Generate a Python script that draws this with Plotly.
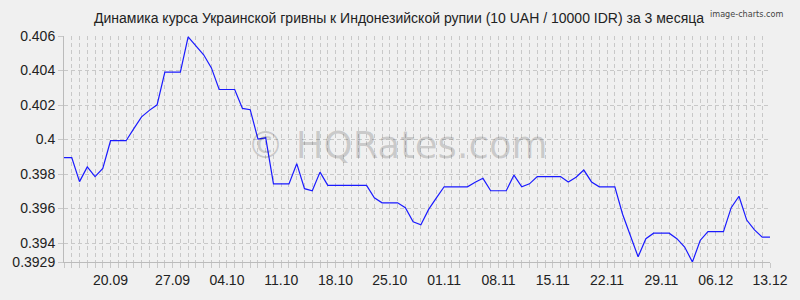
import plotly.graph_objects as go

# Daily rate, 92 points (index 0 .. 91)
values = [
    0.39895, 0.39895, 0.39756, 0.39841, 0.39785, 0.39832, 0.39993, 0.39993, 0.39993, 0.40063,
    0.40131, 0.40169, 0.40201, 0.40391, 0.40391, 0.40391, 0.40595, 0.40542, 0.40491, 0.40415,
    0.40290, 0.40290, 0.40290, 0.40180, 0.40173, 0.40002, 0.40010, 0.39743, 0.39743, 0.39743,
    0.39860, 0.39715, 0.39703, 0.39811, 0.39734, 0.39734, 0.39734, 0.39734, 0.39734, 0.39734,
    0.39662, 0.39633, 0.39633, 0.39633, 0.39605, 0.39523, 0.39506, 0.39595, 0.39662, 0.39726,
    0.39726, 0.39726, 0.39726, 0.39752, 0.39775, 0.39703, 0.39703, 0.39703, 0.39794, 0.39726,
    0.39743, 0.39785, 0.39785, 0.39785, 0.39785, 0.39754, 0.39781, 0.39823, 0.39754, 0.39726,
    0.39726, 0.39726, 0.39567, 0.39444, 0.39320, 0.39425, 0.39457, 0.39457, 0.39457, 0.39425,
    0.39377, 0.39290, 0.39415, 0.39466, 0.39466, 0.39466, 0.39605, 0.39671, 0.39533, 0.39476,
    0.39434, 0.39434,
]
x_index = list(range(len(values)))

x_tick_index = [6, 14, 21, 28, 35, 42, 49, 56, 63, 70, 77, 84, 91]
x_tick_labels = ["20.09", "27.09", "04.10", "11.10", "18.10", "25.10", "01.11",
                 "08.11", "15.11", "22.11", "29.11", "06.12", "13.12"]

y_tick_values = [0.3929, 0.394, 0.396, 0.398, 0.400, 0.402, 0.404, 0.406]
y_tick_labels = ["0.3929", "0.394", "0.396", "0.398", "0.4", "0.402", "0.404", "0.406"]

title_text = "Динамика курса Украинской гривны к Индонезийской рупии (10 UAH / 10000 IDR) за 3 месяца"

BG = "#f0f0f0"
GRID = "#c8c8c8"
FONT = "Liberation Sans, Arial, sans-serif"

fig = go.Figure()
fig.add_trace(go.Scatter(
    x=x_index, y=values, mode="lines",
    line=dict(color="#1a1aff", width=1.2),
    hoverinfo="skip", showlegend=False,
))

fig.update_layout(
    width=800, height=300,
    margin=dict(l=59, r=20, t=36, b=33),
    paper_bgcolor=BG, plot_bgcolor=BG,
    font=dict(family=FONT, size=14, color="#222222"),
    showlegend=False,
    annotations=[
        dict(text=title_text, xref="paper", yref="paper", x=0.475, y=1,
             yshift=18, yanchor="middle", xanchor="center", showarrow=False,
             font=dict(family=FONT, size=14, color="#222222")),
        dict(text="image-charts.com", xref="paper", yref="paper", x=1, y=1,
             xshift=15, yshift=22, xanchor="right", yanchor="middle", showarrow=False,
             font=dict(family="DejaVu Sans Condensed, DejaVu Sans, sans-serif", size=9, color="#444444")),
        dict(text="© HQRates.com", xref="paper", yref="paper", x=0.473, y=0.515,
             xanchor="center", yanchor="middle", showarrow=False,
             font=dict(family="DejaVu Sans, Verdana, sans-serif", size=37, color="rgba(0,0,0,0.17)")),
    ],
)

fig.update_xaxes(
    range=[0, len(values) - 1],
    tickmode="array", tickvals=x_tick_index, ticktext=x_tick_labels,
    showgrid=True, gridcolor=GRID, griddash="4px,3px", gridwidth=1,
    ticks="outside", ticklen=5, tickcolor=GRID,
    minor=dict(dtick=1, tick0=0, showgrid=True, gridcolor=GRID, griddash="4px,3px",
               ticks="outside", ticklen=5, tickcolor=GRID),
    showline=True, linecolor="#bbbbbb", linewidth=1,
    zeroline=False, fixedrange=True,
    tickfont=dict(family=FONT, size=14, color="#222222"),
)
fig.update_yaxes(
    range=[0.3929, 0.406],
    tickmode="array", tickvals=y_tick_values, ticktext=y_tick_labels,
    showgrid=True, gridcolor=GRID, griddash="4px,3px", gridwidth=1,
    ticks="outside", ticklen=5, tickcolor=GRID,
    showline=True, linecolor="#bbbbbb", linewidth=1,
    zeroline=False, fixedrange=True,
    tickfont=dict(family=FONT, size=14, color="#222222"),
)

fig.write_html("out.html", config={"displayModeBar": False})
